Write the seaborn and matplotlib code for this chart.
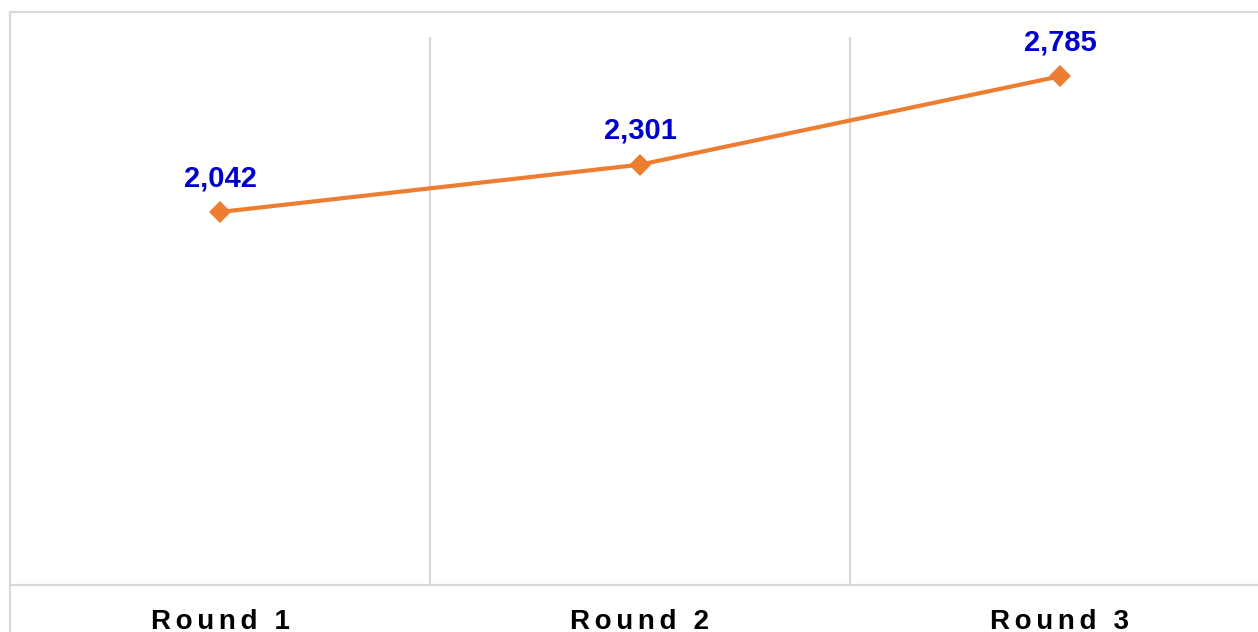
import matplotlib
matplotlib.use("Agg")
import matplotlib.pyplot as plt
from matplotlib.patches import Rectangle
import pandas as pd
import seaborn as sns

rounds = ["Round 1", "Round 2", "Round 3"]
values = [2042, 2301, 2785]

W, H = 1258, 632
LINE = "#ED7D31"
GRID = "#D9D9D9"
LABEL = "#0000CC"

sns.set_theme(style="white")
plt.rcParams["font.family"] = ["Liberation Sans", "DejaVu Sans"]

df = pd.DataFrame({"Round": rounds, "Value": values})

fig = plt.figure(figsize=(W / 100, H / 100), dpi=100)
fig.patch.set_facecolor("white")

# outer container frame (runs off the right and bottom edges)
fig.patches.append(Rectangle((10 / W, -0.1), 1.2, 1 - 12 / H + 0.1,
                             transform=fig.transFigure, fill=False,
                             edgecolor=GRID, lw=1.6, clip_on=False))

ax = fig.add_axes([10 / W, 47 / H, 1260 / W, 548 / H])
ax.set_facecolor("none")

sns.lineplot(data=df, x="Round", y="Value", ax=ax, color=LINE, lw=3,
             marker="D", markersize=11, markeredgewidth=0, sort=False)

ax.set_xlim(-0.5, len(rounds) - 0.5)
ax.set_ylim(0, 3000)

for i in range(1, len(rounds)):
    ax.axvline(i - 0.5, color=GRID, lw=1.6, zorder=0)

for i, v in enumerate(values):
    ax.annotate(f"{v:,}", (i, v), xytext=(0, 18.5), textcoords="offset points",
                ha="center", va="baseline", fontsize=21, fontweight="bold",
                color=LABEL)

for s in ["top", "left", "right"]:
    ax.spines[s].set_visible(False)
ax.spines["bottom"].set_color(GRID)
ax.spines["bottom"].set_linewidth(1.6)

ax.set_yticks([])
ax.set_xticks(range(len(rounds)))
ax.set_xticklabels(["\u2006".join(r) for r in rounds], fontsize=20,
                   fontweight="bold", color="black")
ax.tick_params(axis="x", length=0, pad=17)
ax.set_xlabel("")
ax.set_ylabel("")

fig.savefig("out.png", dpi=100)
